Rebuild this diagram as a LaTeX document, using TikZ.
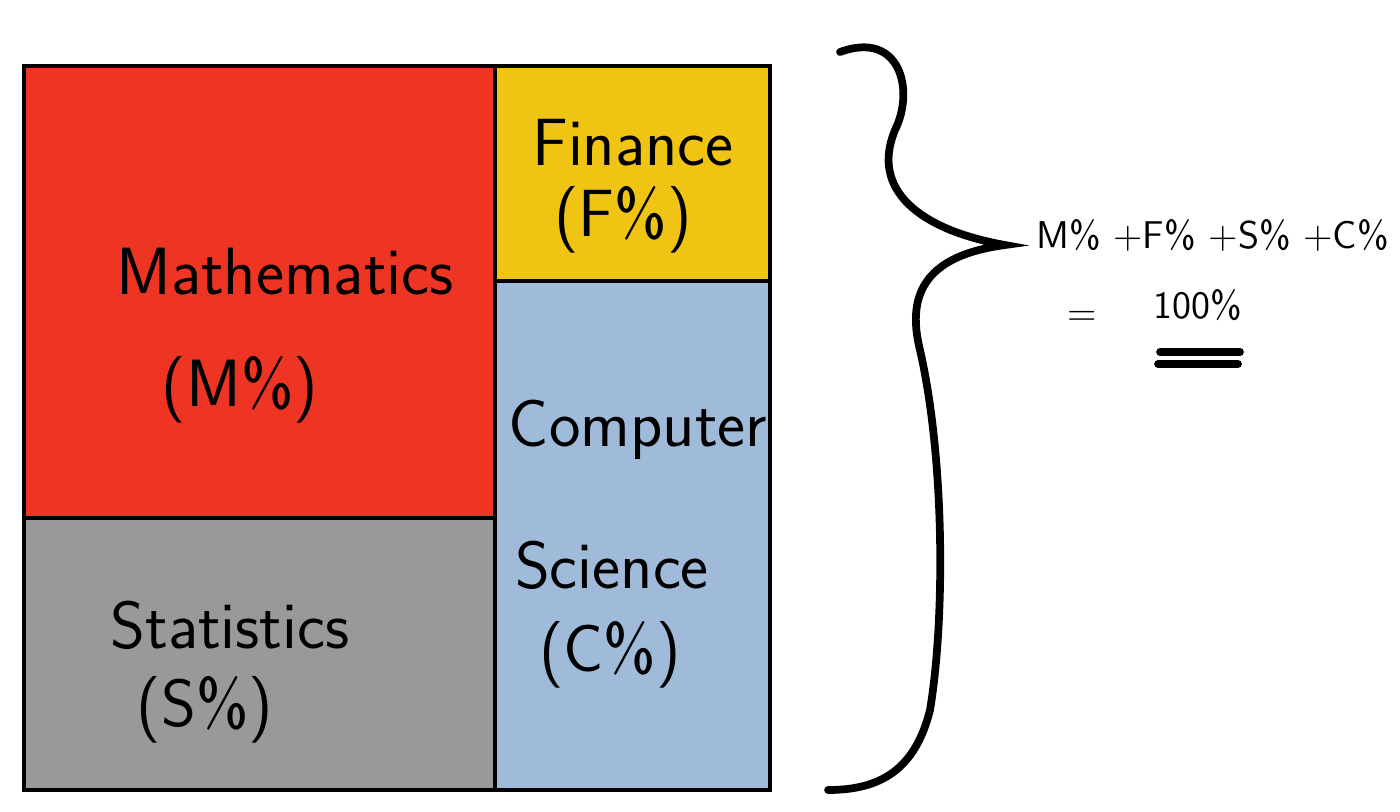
\documentclass[tikz,border=0pt]{standalone}
\usepackage{tikz}

\definecolor{mathred}{HTML}{EE3524}
\definecolor{finyellow}{HTML}{F0C413}
\definecolor{csblue}{HTML}{A0BBD9}
\definecolor{statgray}{HTML}{999999}

\begin{document}
\begin{tikzpicture}[x=0.01cm,y=-0.01cm,thick,
    block/.style={draw=black,line width=1.2pt},
    label text/.style={font=\sffamily\fontsize{19}{23}\selectfont,inner sep=0pt},
    sum text/.style={font=\sffamily\fontsize{11}{14}\selectfont,inner sep=0pt}]
    \useasboundingbox (0,0) rectangle (1400,811);
    % blocks
    \filldraw[block,fill=mathred] (24,66) rectangle (495,518);
    \filldraw[block,fill=finyellow] (495,66) rectangle (770,281);
    \filldraw[block,fill=csblue] (495,281) rectangle (770,790);
    \filldraw[block,fill=statgray] (24,518) rectangle (495,790);
    % labels
    \node[label text] (math) at (285,272) {Mathematics};
    \node[label text] (mathp) at (240,390) {(M\%)};
    \node[label text] (fin) at (633,143) {Finance};
    \node[label text] (finp) at (623,220) {(F\%)};
    \node[label text] (comp) at (638,430) {Computer};
    \node[label text] (sci) at (612,565) {Science};
    \node[label text] (csp) at (610,655) {(C\%)};
    \node[label text] (stat) at (230,625) {Statistics};
    \node[label text] (statp) at (205,710) {(S\%)};
    % brace
    \draw[line width=2.2pt,line cap=round]
      (840,52) .. controls (900,30) and (915,90) .. (895,130)
      .. controls (870,190) and (920,230) .. (1005,245)
      .. controls (930,255) and (905,290) .. (920,350)
      .. controls (945,460) and (945,620) .. (930,710)
      .. controls (915,770) and (880,790) .. (828,790);
    % sum
    \node[sum text,anchor=west] (sum) at (1035,235) {M\% +F\% +S\% +C\%};
    \node[sum text] (eq) at (1082,318) {=};
    \node[sum text] (total) at (1198,305) {100\%};
    \coordinate (ul1) at (1160,352);
    \coordinate (ur1) at (1240,352);
    \coordinate (ul2) at (1158,364);
    \coordinate (ur2) at (1238,364);
    \draw[line width=2.2pt,line cap=round] (ul1) -- (ur1);
    \draw[line width=2.2pt,line cap=round] (ul2) -- (ur2);
\end{tikzpicture}
\end{document}
